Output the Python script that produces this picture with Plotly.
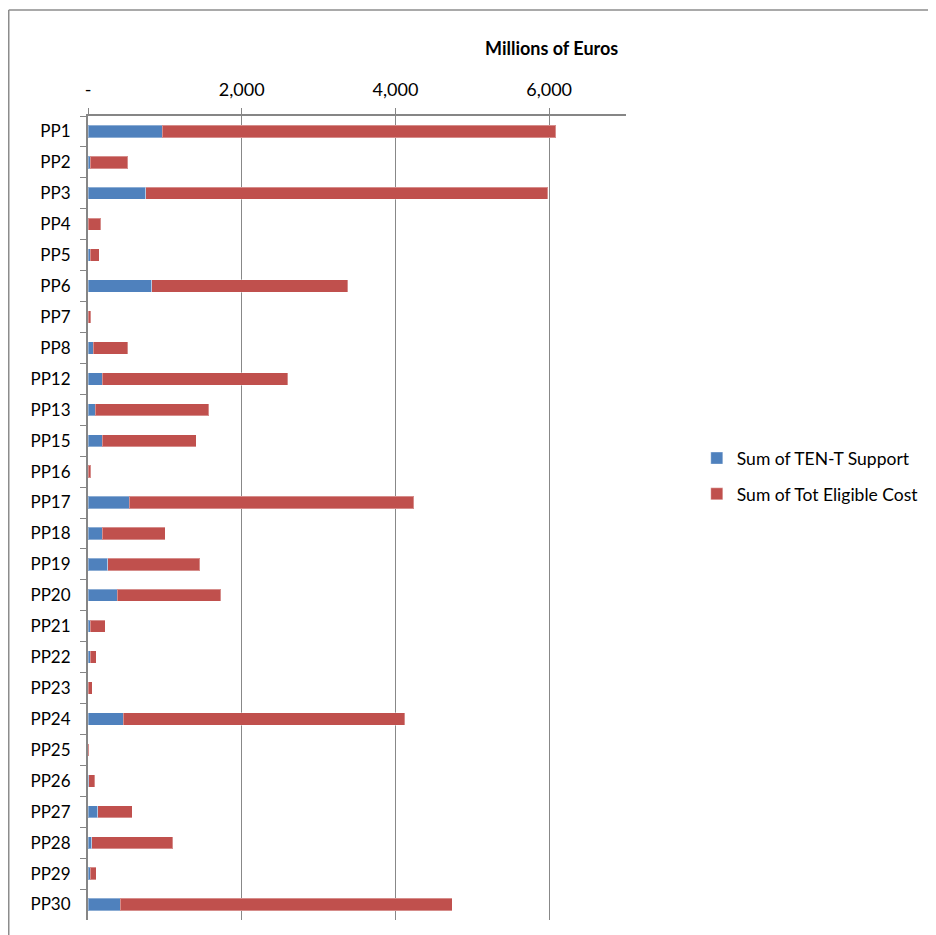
import plotly.graph_objects as go

categories = ["PP1", "PP2", "PP3", "PP4", "PP5", "PP6", "PP7", "PP8", "PP12", "PP13",
              "PP15", "PP16", "PP17", "PP18", "PP19", "PP20", "PP21", "PP22", "PP23",
              "PP24", "PP25", "PP26", "PP27", "PP28", "PP29", "PP30"]
ten_t_support = [963, 31, 751, 3, 31, 829, 3, 65, 187, 96,
                 187, 3, 538, 185, 260, 378, 31, 31, 6,
                 461, 3, 7, 130, 48, 30, 417]
tot_eligible_cost = [5124, 486, 5231, 162, 117, 2552, 32, 452, 2413, 1476,
                     1224, 32, 3702, 818, 1194, 1350, 195, 78, 46,
                     3662, 10, 80, 443, 1055, 79, 4319]
tick_vals = [0, 2000, 4000, 6000]
tick_text = ["-", "2,000", "4,000", "6,000"]

FONT = "Lato, 'Open Sans', sans-serif"

fig = go.Figure()
fig.add_trace(go.Bar(
    y=categories, x=ten_t_support, orientation="h", name="Sum of TEN-T Support",
    marker=dict(color="#4F81BD", line=dict(color="rgba(255,255,255,0.35)", width=1)),
    legendgroup="a"))
fig.add_trace(go.Bar(
    y=categories, x=tot_eligible_cost, orientation="h", name="Sum of Tot Eligible Cost",
    marker=dict(color="#C0504D", line=dict(color="rgba(255,255,255,0.35)", width=1)),
    legendgroup="b"))

fig.update_layout(
    width=936, height=935,
    barmode="stack", bargap=0.6,
    plot_bgcolor="white", paper_bgcolor="white",
    font=dict(family=FONT, size=17, color="#000000"),
    margin=dict(l=80, r=318, t=108, b=23, autoexpand=False),
    showlegend=True,
    legend=dict(x=1.1316, y=0.552, xanchor="left", yanchor="middle",
                traceorder="grouped", tracegroupgap=10,
                font=dict(family=FONT, size=17.5, color="#000000"),
                bgcolor="rgba(0,0,0,0)"),
    xaxis=dict(side="top", range=[0, 7000], tickvals=tick_vals, ticktext=tick_text,
               showgrid=True, gridcolor="#888888", gridwidth=1,
               showline=True, linecolor="#868686", linewidth=2,
               ticks="outside", ticklen=6, tickcolor="#868686", tickwidth=1,
               ticklabelstandoff=5, zeroline=False, automargin=False,
               tickfont=dict(family=FONT, size=18, color="#000000")),
    yaxis=dict(autorange="reversed", type="category",
               showline=True, linecolor="#868686", linewidth=2,
               ticks="outside", tickson="boundaries", ticklen=6, tickcolor="#868686",
               ticklabelstandoff=12, showgrid=False, automargin=False,
               tickfont=dict(family=FONT, size=17, color="#000000")),
    annotations=[dict(text="<b>Millions of Euros</b>", xref="paper", yref="paper",
                      x=0.989, y=1.0846, xanchor="right", yanchor="middle",
                      showarrow=False, font=dict(family=FONT, size=18, color="#000000"))],
    shapes=[
        dict(type="line", xref="paper", yref="paper", x0=-0.1473, x1=-0.1473,
             y0=-0.05, y1=1.1318, line=dict(color="#8c8c8c", width=1.5)),
        dict(type="line", xref="paper", yref="paper", x0=-0.1473, x1=1.7,
             y0=1.1318, y1=1.1318, line=dict(color="#8c8c8c", width=1.5)),
    ],
)

fig.write_html("out.html")
